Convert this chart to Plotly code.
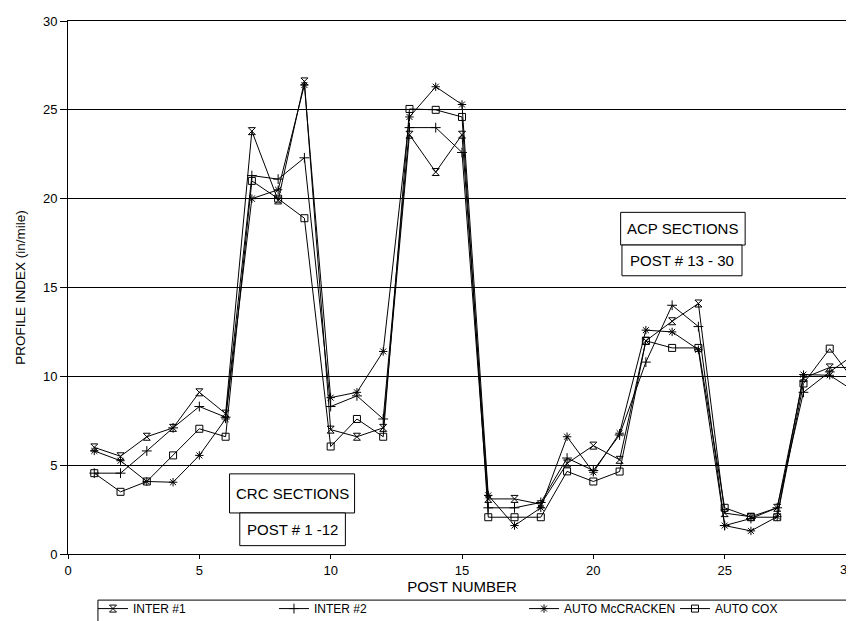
import plotly.graph_objects as go

posts = list(range(1, 31))

inter1 = [6.0, 5.5, 6.6, 7.1, 9.1, 7.9, 23.8, 19.9, 26.6, 7.0,
          6.6, 7.1, 23.6, 21.5, 23.6, 3.1, 3.1, 2.8, 5.1, 6.1,
          5.3, 12.0, 13.1, 14.1, 2.3, 2.1, 2.6, 9.9, 10.5, 10.5]
inter2 = [4.55, 4.55, 5.8, 7.1, 8.3, 7.7, 21.3, 21.1, 22.3, 8.3,
          8.9, 7.6, 24.0, 24.0, 22.6, 2.6, 2.6, 2.9, 5.4, 4.7,
          6.7, 10.8, 14.0, 12.8, 1.6, 2.0, 2.6, 9.1, 10.25, 11.3]
mccracken = [5.8, 5.25, 4.08, 4.04, 5.55, 7.6, 20.0, 20.5, 26.4, 8.8,
             9.1, 11.4, 24.6, 26.3, 25.3, 3.3, 1.6, 2.6, 6.6, 4.6,
             6.8, 12.6, 12.5, 11.5, 1.6, 1.3, 2.1, 10.1, 10.06, 9.1]
cox = [4.55, 3.5, 4.08, 5.55, 7.05, 6.6, 21.0, 20.0, 18.9, 6.05,
       7.6, 6.6, 25.05, 25.0, 24.6, 2.07, 2.07, 2.07, 4.65, 4.08,
       4.64, 12.0, 11.6, 11.6, 2.6, 2.07, 2.07, 9.6, 11.56, 9.6]

series_names = ["INTER #1", "INTER #2", "AUTO McCRACKEN", "AUTO COX"]
series_values = [inter1, inter2, mccracken, cox]
series_symbols = ["hourglass-open", "cross-thin-open", "asterisk-open", "square-open"]
legend_ids = ["legend", "legend2", "legend3", "legend4"]
legend_x = [0.0317, 0.2614, 0.5787, 0.7703]

x_ticks = [0, 5, 10, 15, 20, 25, 30]
x_tick_labels = ["0", "5", "10", "15", "20", "25", "30"]
y_ticks = [0, 5, 10, 15, 20, 25, 30]

FONT = "Arial, 'Liberation Sans', sans-serif"

fig = go.Figure()
for name, vals, sym, lg in zip(series_names, series_values, series_symbols, legend_ids):
    fig.add_trace(go.Scatter(
        x=posts, y=vals, mode="lines+markers", name=name, legend=lg,
        line=dict(color="black", width=1),
        marker=dict(symbol=sym, size=7, color="black",
                    line=dict(color="black", width=1)),
    ))

shapes = []
annotations = []

def box(x0, x1, y0, y1, text):
    shapes.append(dict(type="rect", xref="x", yref="y", x0=x0, x1=x1, y0=y0, y1=y1,
                       line=dict(color="black", width=1), fillcolor="white", layer="above"))
    annotations.append(dict(xref="x", yref="y", x=(x0 + x1) / 2, y=(y0 + y1) / 2,
                            text=text, showarrow=False,
                            font=dict(family=FONT, size=15, color="black")))

box(6.15, 10.91, 2.31, 4.51, "CRC SECTIONS")
box(6.54, 10.56, 0.47, 2.31, "POST # 1 -12")
box(21.04, 25.78, 17.39, 19.23, "ACP SECTIONS")
box(21.09, 25.66, 15.66, 17.39, "POST # 13 - 30")

# last x tick label drawn right-aligned so it stays inside the page
annotations.append(dict(xref="x", yref="paper", x=x_ticks[-1], y=0,
                        xanchor="right", yanchor="top", yshift=-6,
                        text=x_tick_labels[-1], showarrow=False,
                        font=dict(family=FONT, size=13, color="black")))
shown_x_labels = x_tick_labels[:-1] + [""]

# legend frame (top and left edges)
shapes.append(dict(type="line", xref="paper", yref="paper", x0=0.038, x1=1.01,
                   y0=-0.0865, y1=-0.0865, line=dict(color="black", width=1)))
shapes.append(dict(type="line", xref="paper", yref="paper", x0=0.038, x1=0.038,
                   y0=-0.0865, y1=-0.16, line=dict(color="black", width=1)))

legend_common = dict(orientation="h", y=-0.0752, xanchor="left", yanchor="top",
                     bgcolor="rgba(0,0,0,0)", borderwidth=0,
                     font=dict(family=FONT, size=12, color="black"), itemwidth=30)

layout_legends = {}
for lg, lx in zip(legend_ids, legend_x):
    d = dict(legend_common)
    d["x"] = lx
    layout_legends[lg] = d

fig.update_layout(
    width=854, height=621,
    margin=dict(l=60, r=6, t=13, b=75, autoexpand=False),
    plot_bgcolor="white", paper_bgcolor="white",
    font=dict(family=FONT, size=13, color="black"),
    shapes=shapes, annotations=annotations,
    showlegend=True,
    xaxis=dict(range=[0, 30], tickvals=x_ticks, ticktext=shown_x_labels,
               showgrid=False, zeroline=False,
               showline=True, linecolor="black", linewidth=1, mirror=True,
               ticks="outside", ticklen=4, tickcolor="black", automargin=False,
               title=dict(text="POST NUMBER", standoff=4,
                          font=dict(family=FONT, size=15))),
    yaxis=dict(range=[0, 30], tickvals=y_ticks, showgrid=True, gridcolor="black",
               gridwidth=1, zeroline=False, automargin=False,
               showline=True, linecolor="black", linewidth=1, mirror=True,
               ticks="outside", ticklen=7, tickcolor="black",
               title=dict(text="PROFILE INDEX (in/mile)", standoff=14,
                          font=dict(family=FONT, size=13.5))),
    **layout_legends,
)

fig.write_html("out.html")
